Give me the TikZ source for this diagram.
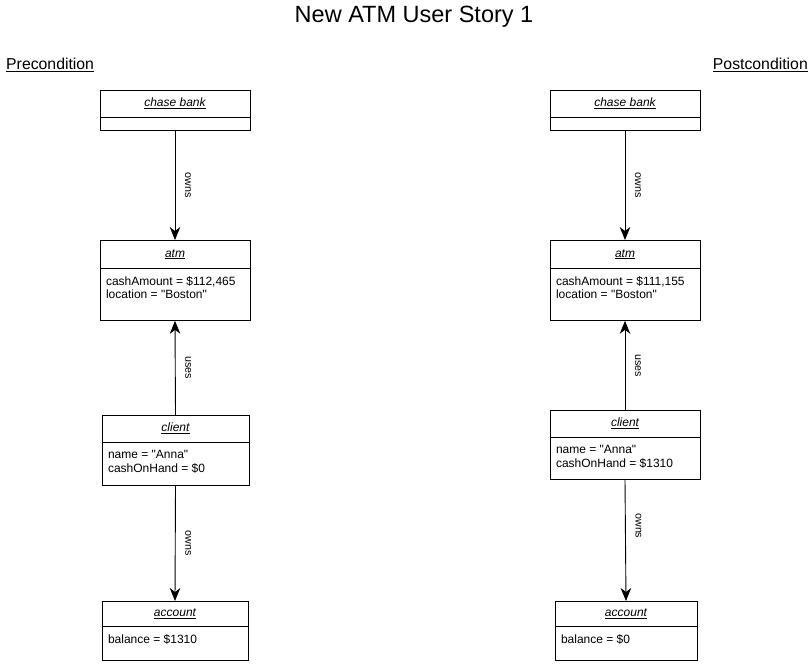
\documentclass[tikz,border=0pt]{standalone}
\usepackage{fontspec}
\setmainfont{Liberation Sans}
\usetikzlibrary{positioning,arrows.meta}
\begin{document}
\begin{tikzpicture}[
			x=1pt, y=1pt,
			font=\fontsize{12}{13.5}\selectfont,
			objhead/.style={draw, minimum width=150pt, minimum height=27pt, inner sep=0pt, anchor=north},
			objbody/.style={draw, minimum width=150pt, inner sep=0pt, anchor=north},
			attrs/.style={anchor=north west, align=left, inner sep=0pt, xshift=6pt, yshift=-8pt},
			link/.style={-{Stealth[length=13pt,width=10.5pt,inset=4pt]}, line width=0.9pt},
			linklabel/.style={xshift=13pt, rotate=-90, inner sep=1pt, font=\fontsize{10.7}{12}\selectfont}
		]
		\useasboundingbox (0,0) rectangle (811,-664);
		% title and column captions
		\node[font=\fontsize{23.5}{26}\selectfont] (title) at (414,-17) {New ATM User Story 1};
		\node[font=\fontsize{15.8}{18}\selectfont, anchor=west, inner sep=0pt] (pre) at (6,-65) {\underline{Precondition}};
		\node[font=\fontsize{15.8}{18}\selectfont, anchor=east, inner sep=0pt] (post) at (808,-65) {\underline{Postcondition}};

		% precondition
		\node[objhead] (bankL) at (175,-90) {\textit{\underline{chase bank}}};
		\node[objbody, minimum height=13pt, below=0pt of bankL] (bankLb) {};
		\node[objhead, minimum height=28pt] (atmL) at (175,-240) {\textit{\underline{atm}}};
		\node[objbody, minimum height=52pt, below=0pt of atmL] (atmLb) {};
		\node[attrs] (atmLtxt) at (atmLb.north west) {cashAmount = \$112,465\\location = \textquotedbl Boston\textquotedbl};
		\node[objhead, minimum width=147pt] (clientL) at (175.5,-415) {\textit{\underline{client}}};
		\node[objbody, minimum width=147pt, minimum height=43pt, below=0pt of clientL] (clientLb) {};
		\node[attrs] (clientLtxt) at (clientLb.north west) {name = \textquotedbl Anna\textquotedbl\\cashOnHand = \$0};
		\node[objhead, minimum width=146pt, minimum height=25pt] (accountL) at (175,-601) {\textit{\underline{account}}};
		\node[objbody, minimum width=146pt, minimum height=34pt, below=0pt of accountL] (accountLb) {};
		\node[attrs] (accountLtxt) at (accountLb.north west) {balance = \$1310};

		\draw[link] (bankLb.south) -- node[linklabel] {owns} (atmL.north);
		\draw[link] (clientL.north) -- node[linklabel] {uses} (atmLb.south);
		\draw[link] (clientLb.south) -- node[linklabel] {owns} (accountL.north);

		% postcondition
		\node[objhead] (bankR) at (625,-90) {\textit{\underline{chase bank}}};
		\node[objbody, minimum height=13pt, below=0pt of bankR] (bankRb) {};
		\node[objhead, minimum height=28pt] (atmR) at (625,-240) {\textit{\underline{atm}}};
		\node[objbody, minimum height=52pt, below=0pt of atmR] (atmRb) {};
		\node[attrs] (atmRtxt) at (atmRb.north west) {cashAmount = \$111,155\\location = \textquotedbl Boston\textquotedbl};
		\node[objhead] (clientR) at (625,-410) {\textit{\underline{client}}};
		\node[objbody, minimum height=42pt, below=0pt of clientR] (clientRb) {};
		\node[attrs] (clientRtxt) at (clientRb.north west) {name = \textquotedbl Anna\textquotedbl\\cashOnHand = \$1310};
		\node[objhead, minimum width=142pt, minimum height=25pt] (accountR) at (626,-601) {\textit{\underline{account}}};
		\node[objbody, minimum width=142pt, minimum height=34pt, below=0pt of accountR] (accountRb) {};
		\node[attrs] (accountRtxt) at (accountRb.north west) {balance = \$0};

		\draw[link] (bankRb.south) -- node[linklabel] {owns} (atmR.north);
		\draw[link] (clientR.north) -- node[linklabel] {uses} (atmRb.south);
		\draw[link] (clientRb.south) -- node[linklabel, pos=0.38] {owns} (accountR.north);
	\end{tikzpicture}
\end{document}
